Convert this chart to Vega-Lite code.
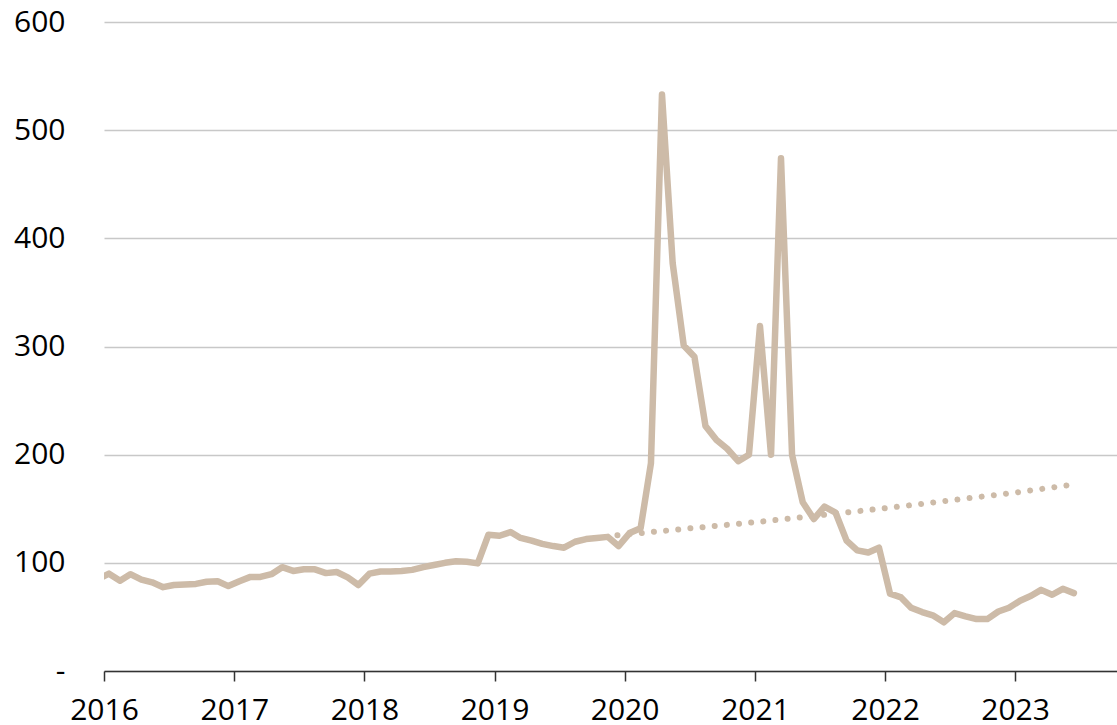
{
  "$schema": "https://vega.github.io/schema/vega-lite/v6.json",
  "width": 1013,
  "height": 649,
  "autosize": {"type": "none"},
  "padding": {"left": 104, "top": 22, "right": 0, "bottom": 54},
  "background": "white",
  "config": {"view": {"stroke": null}, "font": "Open Sans"},
  "datasets": {
    "actual": [
      {"date": "2015-12-15", "value": 85},
      {"date": "2016-01-15", "value": 90},
      {"date": "2016-02-15", "value": 83.5},
      {"date": "2016-03-15", "value": 89.5},
      {"date": "2016-04-15", "value": 84.5},
      {"date": "2016-05-15", "value": 82},
      {"date": "2016-06-15", "value": 77.5},
      {"date": "2016-07-15", "value": 79.5},
      {"date": "2016-08-15", "value": 80},
      {"date": "2016-09-15", "value": 80.5},
      {"date": "2016-10-15", "value": 82.5},
      {"date": "2016-11-15", "value": 83},
      {"date": "2016-12-15", "value": 78.5},
      {"date": "2017-01-15", "value": 83},
      {"date": "2017-02-15", "value": 87},
      {"date": "2017-03-15", "value": 87},
      {"date": "2017-04-15", "value": 89.5},
      {"date": "2017-05-15", "value": 96},
      {"date": "2017-06-15", "value": 92.5},
      {"date": "2017-07-15", "value": 94},
      {"date": "2017-08-15", "value": 94},
      {"date": "2017-09-15", "value": 90.5},
      {"date": "2017-10-15", "value": 91.5},
      {"date": "2017-11-15", "value": 86.5},
      {"date": "2017-12-15", "value": 79.5},
      {"date": "2018-01-15", "value": 90},
      {"date": "2018-02-15", "value": 92},
      {"date": "2018-03-15", "value": 92},
      {"date": "2018-04-15", "value": 92.5},
      {"date": "2018-05-15", "value": 93.5},
      {"date": "2018-06-15", "value": 96},
      {"date": "2018-07-15", "value": 98},
      {"date": "2018-08-15", "value": 100},
      {"date": "2018-09-15", "value": 101.5},
      {"date": "2018-10-15", "value": 101},
      {"date": "2018-11-15", "value": 99.5},
      {"date": "2018-12-15", "value": 126},
      {"date": "2019-01-15", "value": 125},
      {"date": "2019-02-15", "value": 128.5},
      {"date": "2019-03-15", "value": 123},
      {"date": "2019-04-15", "value": 120.5},
      {"date": "2019-05-15", "value": 117.5},
      {"date": "2019-06-15", "value": 115.5},
      {"date": "2019-07-15", "value": 114},
      {"date": "2019-08-15", "value": 119.5},
      {"date": "2019-09-15", "value": 122},
      {"date": "2019-10-15", "value": 123},
      {"date": "2019-11-15", "value": 124},
      {"date": "2019-12-15", "value": 115.5},
      {"date": "2020-01-15", "value": 127.5},
      {"date": "2020-02-15", "value": 132},
      {"date": "2020-03-15", "value": 192},
      {"date": "2020-04-15", "value": 533},
      {"date": "2020-05-15", "value": 377},
      {"date": "2020-06-15", "value": 301},
      {"date": "2020-07-15", "value": 290.5},
      {"date": "2020-08-15", "value": 226.5},
      {"date": "2020-09-15", "value": 213.5},
      {"date": "2020-10-15", "value": 205.5},
      {"date": "2020-11-15", "value": 194},
      {"date": "2020-12-15", "value": 200},
      {"date": "2021-01-15", "value": 319},
      {"date": "2021-02-15", "value": 200},
      {"date": "2021-03-15", "value": 474},
      {"date": "2021-04-15", "value": 200},
      {"date": "2021-05-15", "value": 156},
      {"date": "2021-06-15", "value": 140.5},
      {"date": "2021-07-15", "value": 152},
      {"date": "2021-08-15", "value": 146.5},
      {"date": "2021-09-15", "value": 120.5},
      {"date": "2021-10-15", "value": 111.5},
      {"date": "2021-11-15", "value": 109.5},
      {"date": "2021-12-15", "value": 114},
      {"date": "2022-01-15", "value": 71.5},
      {"date": "2022-02-15", "value": 68},
      {"date": "2022-03-15", "value": 58.5},
      {"date": "2022-04-15", "value": 54.5},
      {"date": "2022-05-15", "value": 51.5},
      {"date": "2022-06-15", "value": 45},
      {"date": "2022-07-15", "value": 53.5},
      {"date": "2022-08-15", "value": 50.5},
      {"date": "2022-09-15", "value": 48},
      {"date": "2022-10-15", "value": 48},
      {"date": "2022-11-15", "value": 55},
      {"date": "2022-12-15", "value": 58.5},
      {"date": "2023-01-15", "value": 65},
      {"date": "2023-02-15", "value": 69.5},
      {"date": "2023-03-15", "value": 75},
      {"date": "2023-04-15", "value": 70.5},
      {"date": "2023-05-15", "value": 76},
      {"date": "2023-06-15", "value": 72}
    ],
    "trend": [
      {"date": "2019-12-12", "value": 125.5},
      {"date": "2021-01-15", "value": 138},
      {"date": "2022-01-15", "value": 151},
      {"date": "2023-01-15", "value": 165.5},
      {"date": "2023-06-15", "value": 172.5}
    ]
  },
  "layer": [
    {
      "data": {"name": "actual"},
      "mark": {"type": "line", "color": "#CDBBA8", "strokeWidth": 6.5, "strokeJoin": "round", "strokeCap": "round", "clip": true},
      "encoding": {
        "x": {
          "field": "date", "type": "temporal",
          "scale": {"type": "utc", "domain": [{"year": 2016, "month": 1, "date": 1, "utc": true}, {"year": 2023, "month": 10, "date": 14, "utc": true}]},
          "axis": {
            "title": null, "format": "%Y", "tickCount": {"interval": "year", "step": 1},
            "grid": false, "domainColor": "#333333", "domainWidth": 1.5,
            "tickColor": "#333333", "tickWidth": 1.5, "tickSize": 10,
            "labelFontSize": 30, "labelColor": "#000000", "labelPadding": 14,
            "labelFlush": false, "labelOverlap": false
          }
        },
        "y": {
          "field": "value", "type": "quantitative",
          "scale": {"domain": [0, 600], "nice": false},
          "axis": {
            "title": null, "values": [0, 100, 200, 300, 400, 500, 600],
            "grid": true, "gridColor": "#c8c8c8", "gridWidth": 1.3,
            "domain": false, "ticks": false,
            "labelFontSize": 30, "labelColor": "#000000", "labelPadding": 39,
            "labelExpr": "datum.value == 0 ? '-' : datum.label"
          }
        }
      }
    },
    {
      "data": {"name": "trend"},
      "mark": {"type": "line", "color": "#CDBBA8", "strokeWidth": 6, "strokeDash": [0.01, 12.2], "strokeCap": "round"},
      "encoding": {
        "x": {"field": "date", "type": "temporal"},
        "y": {"field": "value", "type": "quantitative"}
      }
    }
  ]
}
